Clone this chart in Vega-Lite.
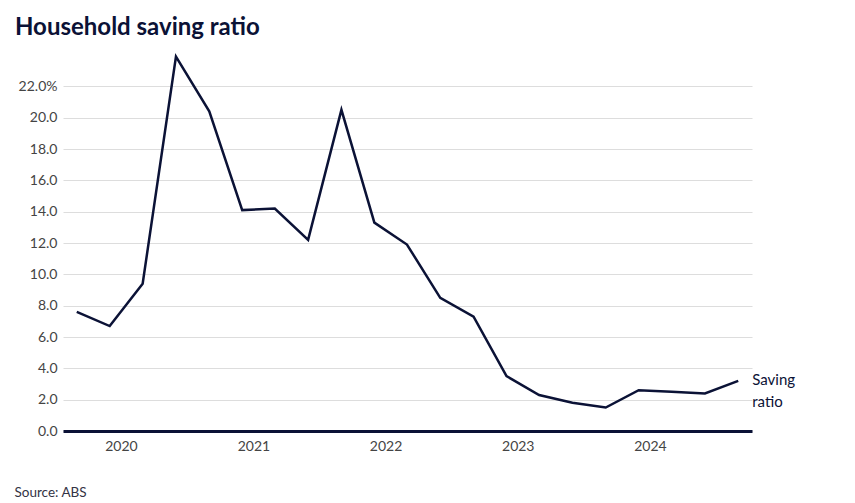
{
  "$schema": "https://vega.github.io/schema/vega-lite/v6.json",
  "width": 689,
  "height": 376,
  "autosize": {"type": "none"},
  "padding": {"left": 63, "top": 55, "right": 103, "bottom": 72},
  "background": "white",
  "config": {
    "view": {"stroke": null},
    "font": "Lato"
  },
  "title": {
    "text": "Household saving ratio",
    "anchor": "start",
    "frame": "group",
    "dx": -48,
    "offset": 12,
    "font": "Lato",
    "fontSize": 24,
    "fontWeight": "bold",
    "color": "#0b1236"
  },
  "data": {
    "values": [
      {"date": "2019-09-01", "value": 7.6},
      {"date": "2019-12-01", "value": 6.7},
      {"date": "2020-03-01", "value": 9.4},
      {"date": "2020-06-01", "value": 23.9},
      {"date": "2020-09-01", "value": 20.4},
      {"date": "2020-12-01", "value": 14.1},
      {"date": "2021-03-01", "value": 14.2},
      {"date": "2021-06-01", "value": 12.2},
      {"date": "2021-09-01", "value": 20.5},
      {"date": "2021-12-01", "value": 13.3},
      {"date": "2022-03-01", "value": 11.9},
      {"date": "2022-06-01", "value": 8.5},
      {"date": "2022-09-01", "value": 7.3},
      {"date": "2022-12-01", "value": 3.5},
      {"date": "2023-03-01", "value": 2.3},
      {"date": "2023-06-01", "value": 1.8},
      {"date": "2023-09-01", "value": 1.5},
      {"date": "2023-12-01", "value": 2.6},
      {"date": "2024-03-01", "value": 2.5},
      {"date": "2024-06-01", "value": 2.4},
      {"date": "2024-09-01", "value": 3.2}
    ]
  },
  "encoding": {
    "x": {
      "field": "date",
      "type": "temporal",
      "scale": {"domain": ["2019-07-25", "2024-10-09"]},
      "axis": {
        "title": "Source: ABS",
        "titleAnchor": "start",
        "titleAlign": "left",
        "titleBaseline": "middle",
        "titleX": -49,
        "titleY": 61,
        "titleFont": "Lato",
        "titleFontSize": 13.5,
        "titleFontWeight": "normal",
        "titleColor": "#333344",
        "values": ["2020-01-01", "2021-01-01", "2022-01-01", "2023-01-01", "2024-01-01"],
        "format": "%Y",
        "ticks": false,
        "grid": false,
        "domainColor": "#0b1236",
        "domainWidth": 3,
        "labelFont": "Lato",
        "labelFontSize": 14,
        "labelColor": "#444444",
        "labelPadding": 8
      }
    },
    "y": {
      "field": "value",
      "type": "quantitative",
      "scale": {"domain": [0, 24], "nice": false},
      "axis": {
        "title": null,
        "values": [0, 2, 4, 6, 8, 10, 12, 14, 16, 18, 20, 22],
        "labelExpr": "datum.value == 22 ? format(datum.value, '.1f') + '%' : format(datum.value, '.1f')",
        "ticks": false,
        "domain": false,
        "gridColor": "#dddddd",
        "gridWidth": 1,
        "labelFont": "Lato",
        "labelFontSize": 14,
        "labelColor": "#444444",
        "labelPadding": 6
      }
    }
  },
  "layer": [
    {
      "mark": {"type": "line", "color": "#0b1236", "strokeWidth": 2.5}
    },
    {
      "transform": [{"filter": "datum.value == 3.2 && year(datum.date) == 2024"}],
      "mark": {
        "type": "text",
        "text": ["Saving", "ratio"],
        "align": "left",
        "baseline": "top",
        "dx": 14,
        "dy": -8,
        "lineHeight": 22,
        "fontSize": 15,
        "font": "Lato",
        "color": "#0b1236"
      }
    }
  ]
}
